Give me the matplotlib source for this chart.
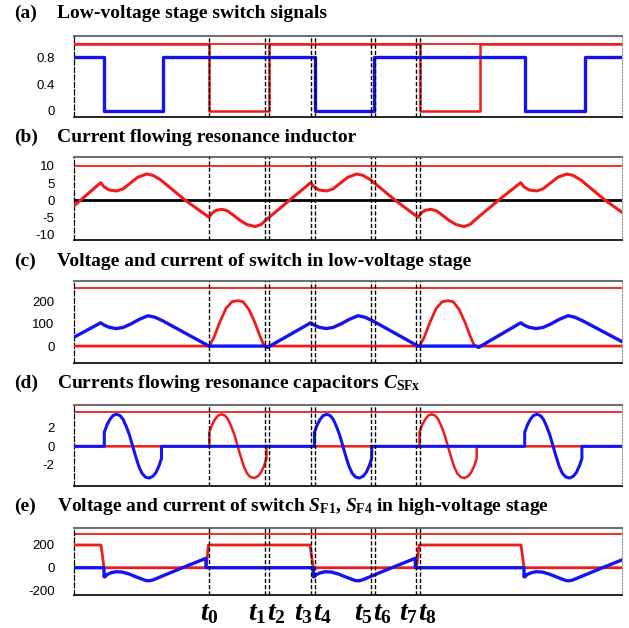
import numpy as np
import matplotlib
matplotlib.use('Agg')
import matplotlib.pyplot as plt

plt.rcParams['mathtext.fontset'] = 'custom'
plt.rcParams['mathtext.rm'] = 'Liberation Serif:bold'
plt.rcParams['mathtext.it'] = 'Liberation Serif:bold:italic'
plt.rcParams['mathtext.bf'] = 'Liberation Serif:bold'

RED = '#f01c1c'
BLUE = '#1414f0'

# time axis (arbitrary units)
t_lim = (74, 622)
t_marks = [209, 265, 268.5, 311, 314.5, 371, 374.5, 416, 419.5]
t_names = ['$t_0$', '$t_1$', '$t_2$', '$t_3$', '$t_4$', '$t_5$', '$t_6$', '$t_7$', '$t_8$']

# (a) switch signals
a_blue_t = [74, 104.3, 104.3, 163.3, 163.3, 314.5, 314.5, 374, 374, 525, 525, 584.5, 584.5, 622]
a_blue_v = [0.8, 0.8, 0, 0, 0.8, 0.8, 0, 0, 0.8, 0.8, 0, 0, 0.8, 0.8]
a_red_t = [74, 209.3, 209.3, 269, 269, 419.5, 419.5, 479.5, 479.5, 622]
a_red_v = [1, 1, 0, 0, 1, 1, 0, 0, 1, 1]

# (b) resonance inductor current
b_t = [74, 100.7, 104, 109, 116.7, 123, 130, 138, 146.7, 153, 160.7, 185.3,
       209, 212, 216, 221.7, 227, 233, 240, 247, 255, 261, 266.7, 289.4,
       310.7, 314, 319, 326.7, 333, 340, 348, 356.7, 363, 370.7, 395.3,
       418, 421, 425, 430.7, 436, 442, 449, 456, 464, 470, 475.7, 498.4,
       520.7, 524, 529, 536.7, 543, 550, 558, 566.7, 573, 580.7, 605.3, 622]
b_v = [-1.6, 5.1, 3.9, 3.0, 2.7, 3.3, 4.9, 6.7, 7.6, 7.2, 5.9, 0.0,
       -4.9, -3.7, -2.9, -2.6, -3.0, -4.2, -5.8, -7.0, -7.6, -7.0, -5.5, 0.0,
       5.1, 3.9, 3.0, 2.7, 3.3, 4.9, 6.7, 7.6, 7.2, 5.9, 0.0,
       -4.9, -3.7, -2.9, -2.6, -3.0, -4.2, -5.8, -7.0, -7.6, -7.0, -5.5, 0.0,
       5.1, 3.9, 3.0, 2.7, 3.3, 4.9, 6.7, 7.6, 7.2, 5.9, 0.0, -3.5]

# (c) low-voltage switch: current (blue) and voltage (red)
c_blue_t = [74, 100.7, 104, 109, 116, 123, 131, 139, 148, 155, 162.7, 209, 265, 267.5,
            310.7, 314, 319, 326, 333, 341, 349, 358, 365, 372.7, 418, 476, 478.5,
            520.7, 524, 529, 536, 543, 551, 559, 568, 575, 582.7, 622]
c_blue_v = [40, 105, 95, 85, 79, 84, 100, 120, 137, 130, 114, 0, 0, -6,
            105, 95, 85, 79, 84, 100, 120, 137, 130, 114, 0, 0, -6,
            105, 95, 85, 79, 84, 100, 120, 137, 130, 114, 20]
c_red_t = [74, 209.3, 214, 220, 226, 232, 237.5, 243, 249, 255, 260, 264.3,
           419.5, 424.2, 430.2, 436.2, 442.2, 447.7, 453.2, 459.2, 465.2, 470.2, 474.5, 622]
c_red_v = [0, 0, 40, 110, 170, 200, 205, 200, 165, 105, 45, 0,
           0, 40, 110, 170, 200, 205, 200, 165, 105, 45, 0, 0]

# (d) resonance capacitor currents: one pulse shape, repeated at these starts
d_pulse_dt = [0, 0, 2.7, 5.7, 8.7, 12.2, 15.7, 18.7, 21.7, 25.2, 28.4, 31.7, 34.7,
              37.7, 41.2, 44.9, 48.7, 51.7, 54.7, 57.2, 57.2]
d_pulse_v = [0, 1.5, 2.3, 2.9, 3.3, 3.43, 3.3, 2.9, 2.2, 1.2, 0, -1.2, -2.2,
             -2.9, -3.3, -3.4, -3.2, -2.8, -2.1, -1.3, 0]
d_red_starts = [209.3, 419.5]
d_blue_starts = [104.3, 314.5, 524.7]

# (e) high-voltage switch: voltage (red) and current (blue)
e_red_t = [74, 101, 104, 206, 208.5, 310, 313.3, 416.5, 419, 521, 524, 622]
e_red_v = [200, 200, 0, 0, 200, 200, 0, 0, 200, 200, 0, 0]
e_pulse_dt = [0, 0, 1, 3, 7, 12, 18, 25, 32, 38, 42, 45, 48, 51, 78.5, 102, 102]
e_pulse_v = [0, -79, -80, -60, -45, -35, -38, -55, -80, -100, -113, -115, -110, -100, 0, 83, 0]
e_blue_starts = [104, 313.3, 524]


def pulse_train(starts, dt, vals):
    tt = [t_lim[0]]
    vv = [0]
    for s in starts:
        tt += [s + d for d in dt]
        vv += vals
    tt.append(t_lim[1] + 10)
    vv.append(0)
    return tt, vv


W, H = 629, 628
fig = plt.figure(figsize=(W / 100, H / 100), dpi=100)

boxes = [(36, 117.3), (157.3, 240), (280.7, 362.7), (405, 485.5), (527.7, 595)]
ylims = [(-0.094, 1.118), (-11.47, 12.43), (-75, 295), (-4.2, 4.43), (-240, 352)]
yticks = [[0, 0.4, 0.8], [-10, -5, 0, 5, 10], [0, 100, 200], [-2, 0, 2], [-200, 0, 200]]
ytick_txt = [['0', '0.4', '0.8'], ['-10', '-5', '0', '5', '10'], ['0', '100', '200'],
             ['-2', '0', '2'], ['-200', '0', '200']]
ref_lines = [1.0, 10, 260, 3.7, 300]
titles = ['Low-voltage stage switch signals',
          'Current flowing resonance inductor',
          'Voltage and current of switch in low-voltage stage',
          r'Currents flowing resonance capacitors $C_{\mathrm{SFx}}$',
          r'Voltage and current of switch $S_{\mathrm{F1}}$, $S_{\mathrm{F4}}$ in high-voltage stage']
letters = ['(a)', '(b)', '(c)', '(d)', '(e)']
title_base = [18, 142, 266, 388, 511]

axes = []
for i, (top, bot) in enumerate(boxes):
    ax = fig.add_axes([t_lim[0] / W, 1 - bot / H, (t_lim[1] - t_lim[0]) / W, (bot - top) / H])
    ax.set_xlim(t_lim)
    ax.set_ylim(ylims[i])
    ax.set_xticks([])
    ax.set_yticks(yticks[i])
    ax.set_yticklabels(ytick_txt[i], fontsize=9.5, family='Liberation Sans')
    ax.tick_params(axis='y', length=0, pad=14)
    ax.spines['top'].set_color('#707070')
    ax.spines['top'].set_linewidth(1.5)
    ax.spines['right'].set_color('#909090')
    ax.spines['right'].set_linestyle(':')
    ax.spines['left'].set_color('k')
    ax.spines['left'].set_linestyle((0, (4, 2)))
    ax.spines['left'].set_linewidth(0.9)
    ax.spines['bottom'].set_color('k')
    ax.spines['bottom'].set_linewidth(1.2)
    for tm in t_marks:
        ax.axvline(tm, color='k', lw=1, ls=(0, (3, 1.5)), zorder=4)
    ax.axhline(ref_lines[i], color=RED, lw=1.3, zorder=2)
    fig.text(14 / W, 1 - title_base[i] / H, letters[i], fontsize=14, family='Liberation Serif',
             weight='bold', va='baseline')
    fig.text(57 / W, 1 - title_base[i] / H, titles[i], fontsize=14, family='Liberation Serif',
             weight='bold', va='baseline')
    axes.append(ax)

ax_a, ax_b, ax_c, ax_d, ax_e = axes

ax_a.plot(a_red_t, a_red_v, color=RED, lw=1.8, zorder=3)
ax_a.plot(a_blue_t, a_blue_v, color=BLUE, lw=2.4, zorder=3)

ax_b.axhline(0, color='k', lw=2, zorder=2)
ax_b.plot(b_t, b_v, color=RED, lw=2.2, zorder=3)

ax_c.plot(c_red_t, c_red_v, color=RED, lw=2, zorder=3)
ax_c.plot(c_blue_t, c_blue_v, color=BLUE, lw=2.4, zorder=3)

dt_r, dv_r = pulse_train(d_red_starts, d_pulse_dt, d_pulse_v)
dt_b, dv_b = pulse_train(d_blue_starts, d_pulse_dt, d_pulse_v)
ax_d.plot(dt_r, dv_r, color=RED, lw=1.8, zorder=3)
ax_d.plot(dt_b, dv_b, color=BLUE, lw=2.2, zorder=3)

et_b, ev_b = pulse_train(e_blue_starts, e_pulse_dt, e_pulse_v)
ax_e.plot(e_red_t, e_red_v, color=RED, lw=2, zorder=3)
ax_e.plot(et_b, ev_b, color=BLUE, lw=2.4, zorder=3)

# time instants under the last panel
lab_y = -(620 - boxes[4][1]) / (boxes[4][1] - boxes[4][0])
for k, (tm, nm) in enumerate(zip(t_marks, t_names)):
    if k == 0:
        x, ha = tm, 'center'
    elif k % 2 == 1:
        x, ha = (tm + t_marks[k + 1]) / 2, 'right'
    else:
        x, ha = (tm + t_marks[k - 1]) / 2, 'left'
    ax_e.text(x, lab_y, nm, transform=ax_e.get_xaxis_transform(), ha=ha, va='baseline',
              fontsize=20, clip_on=False)

fig.savefig('out.png', dpi=100)
